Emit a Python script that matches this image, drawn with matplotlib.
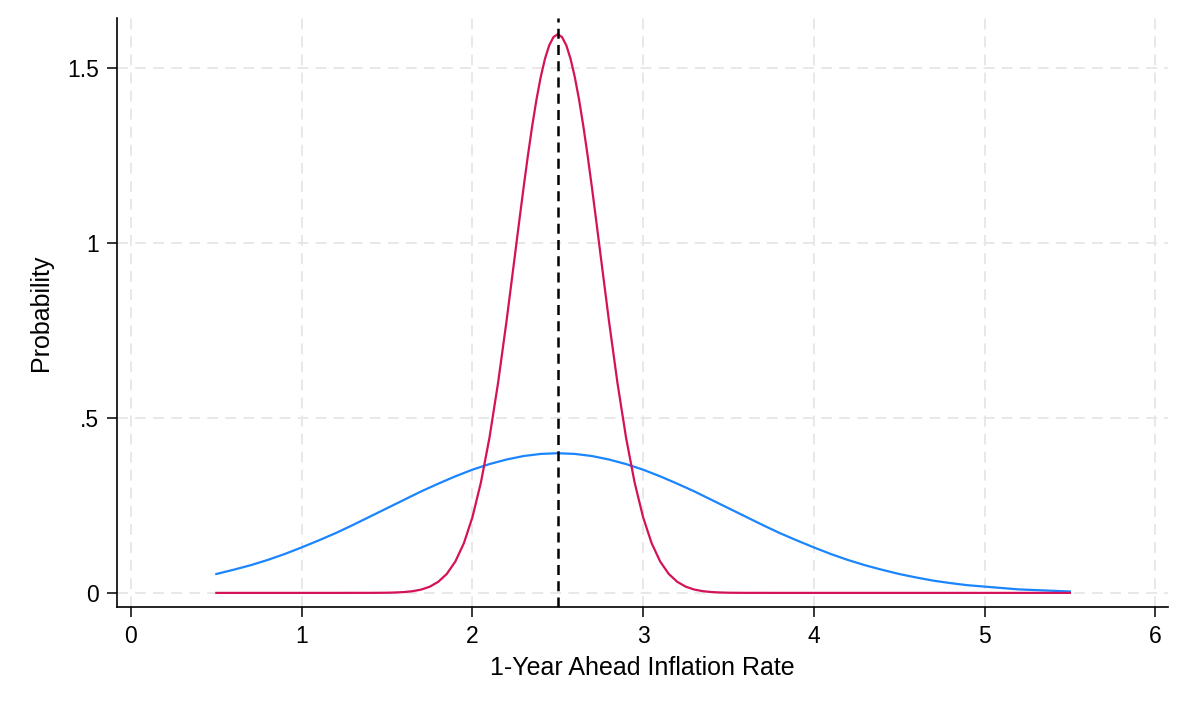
import matplotlib
matplotlib.use("Agg")
import matplotlib.pyplot as plt

plt.rcParams['font.family'] = ['Liberation Sans', 'DejaVu Sans']

# wide density (x step 0.1)
x_wide = [0.5, 0.6, 0.7, 0.8, 0.9, 1.0, 1.1, 1.2, 1.3, 1.4, 1.5, 1.6, 1.7, 1.8, 1.9,
          2.0, 2.1, 2.2, 2.3, 2.4, 2.5, 2.6, 2.7, 2.8, 2.9, 3.0, 3.1, 3.2, 3.3, 3.4,
          3.5, 3.6, 3.7, 3.8, 3.9, 4.0, 4.1, 4.2, 4.3, 4.4, 4.5, 4.6, 4.7, 4.8, 4.9,
          5.0, 5.1, 5.2, 5.3, 5.4, 5.5]
y_wide = [0.054, 0.066, 0.079, 0.094, 0.111, 0.130, 0.150, 0.171, 0.194, 0.218,
          0.242, 0.266, 0.290, 0.312, 0.333, 0.352, 0.368, 0.381, 0.391, 0.397,
          0.399, 0.397, 0.391, 0.381, 0.368, 0.352, 0.333, 0.312, 0.290, 0.266,
          0.242, 0.218, 0.194, 0.171, 0.150, 0.130, 0.111, 0.094, 0.079, 0.066,
          0.054, 0.044, 0.035, 0.028, 0.022, 0.018, 0.014, 0.010, 0.008, 0.006, 0.004]

# narrow density (denser points near the peak)
x_narrow = [0.5, 1.0, 1.2, 1.3, 1.4, 1.5, 1.55, 1.6, 1.65, 1.7, 1.75, 1.8, 1.85,
            1.9, 1.95, 2.0, 2.05, 2.1, 2.15, 2.2, 2.25, 2.275, 2.3, 2.325, 2.35,
            2.375, 2.4, 2.425, 2.45, 2.475, 2.5, 2.525, 2.55, 2.575, 2.6, 2.625,
            2.65, 2.675, 2.7, 2.725, 2.75, 2.8, 2.85, 2.9, 2.95, 3.0, 3.05, 3.1,
            3.15, 3.2, 3.25, 3.3, 3.35, 3.4, 3.45, 3.5, 3.6, 3.7, 3.8, 4.0, 4.5, 5.5]
y_narrow = [0.0, 0.0, 0.0, 0.0001, 0.0001, 0.0005, 0.0012, 0.0024, 0.0049, 0.0095,
            0.0177, 0.0317, 0.0543, 0.0896, 0.1419, 0.2160, 0.3158, 0.4436, 0.5989,
            0.7768, 0.9679, 1.0644, 1.1587, 1.2490, 1.3329, 1.4083, 1.4731, 1.5256,
            1.5642, 1.5878, 1.5958, 1.5878, 1.5642, 1.5256, 1.4731, 1.4083, 1.3329,
            1.2490, 1.1587, 1.0644, 0.9679, 0.7768, 0.5989, 0.4436, 0.3158, 0.2160,
            0.1419, 0.0896, 0.0543, 0.0317, 0.0177, 0.0095, 0.0049, 0.0024, 0.0012,
            0.0005, 0.0001, 0.0001, 0.0, 0.0, 0.0, 0.0]

mean_line = 2.5
x_ticks = [0, 1, 2, 3, 4, 5, 6]
y_ticks = [0, 0.5, 1, 1.5]
y_ticklabels = ['0', '.5', '1', '1.5']

fig = plt.figure(figsize=(12, 7.09), dpi=100)
ax = fig.add_axes([0.0975, 0.144, 0.876, 0.831])

ax.grid(True, color='#e6e6e6', linestyle=(0, (6, 4)), linewidth=1.3)
ax.set_axisbelow(True)

ax.plot(x_wide, y_wide, color='#1a85ff', linewidth=1.6)
ax.plot(x_narrow, y_narrow, color='#d41159', linewidth=1.6)
ax.axvline(mean_line, color='black', linestyle=(0, (4, 2.5)), linewidth=1.8)

ax.set_xlim(-0.082, 6.076)
ax.set_ylim(-0.04, 1.643)
ax.set_xticks(x_ticks)
ax.set_yticks(y_ticks)
ax.set_yticklabels(y_ticklabels)

for s in ['top', 'right']:
    ax.spines[s].set_visible(False)
for s in ['left', 'bottom']:
    ax.spines[s].set_linewidth(1.2)

ax.tick_params(axis='both', direction='out', length=7, width=1.1, labelsize=16.5, pad=6)
ax.set_xlabel('1-Year Ahead Inflation Rate', fontsize=18, labelpad=6)
ax.set_ylabel('Probability', fontsize=18, labelpad=10)

fig.savefig('out.png', dpi=100)
